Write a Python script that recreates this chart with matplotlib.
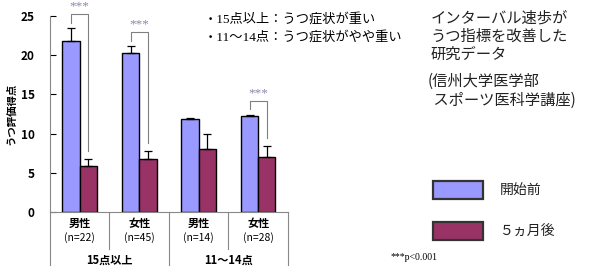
import matplotlib.pyplot as plt
import numpy as np

plt.rcParams["font.family"] = ["Noto Sans CJK JP", "DejaVu Sans"]

SEX_LABELS = ["男性", "女性", "男性", "女性"]
N_LABELS = ["(n=22)", "(n=45)", "(n=14)", "(n=28)"]
GROUP_LABELS = ["15点以上", "11～14点"]
SERIES_LABELS = ["開始前", "５ヵ月後"]

before = [21.8, 20.3, 11.8, 12.2]
before_err = [1.6, 0.8, 0.2, 0.2]
after = [5.8, 6.7, 8.0, 7.0]
after_err = [1.0, 1.1, 2.0, 1.4]
significant = [True, True, False, True]

BLUE = "#9999ff"
RED = "#993366"
W = 0.29

fig = plt.figure(figsize=(5.91, 2.70), dpi=100)
ax = fig.add_axes([0.0846, 0.2148, 0.4027, 0.7268])

x = np.arange(len(before))
ax.bar(x - W / 2, before, W, color=BLUE, edgecolor="black", linewidth=1.0,
       yerr=[np.zeros(4), before_err], capsize=3,
       error_kw={"elinewidth": 0.9, "capthick": 0.9})
ax.bar(x + W / 2, after, W, color=RED, edgecolor="black", linewidth=1.0,
       yerr=[np.zeros(4), after_err], capsize=3,
       error_kw={"elinewidth": 0.9, "capthick": 0.9})

# significance brackets
for i, sig in enumerate(significant):
    if not sig:
        continue
    b_top = before[i] + before_err[i]
    a_top = after[i] + after_err[i]
    top = b_top + 1.8
    ax.plot([i - W / 2, i - W / 2, i + W / 2, i + W / 2],
            [b_top + 0.7, top, top, a_top + 1.0],
            color="#808080", lw=0.8, clip_on=False)
    ax.text(i, top + 0.2, "***", ha="center", va="bottom", fontsize=9.5,
            color="#8888aa", family=["Liberation Serif"])

ax.set_xlim(-0.5, 3.5)
ax.set_ylim(0, 25)
ax.set_yticks([0, 5, 10, 15, 20, 25])
ax.tick_params(axis="y", direction="in", length=4, labelsize=8.5, pad=11)
for lab in ax.get_yticklabels():
    lab.set_fontweight("bold")
ax.set_xticks([])
ax.spines["top"].set_visible(False)
ax.spines["right"].set_visible(False)
ax.spines["left"].set_color("#888888")
ax.spines["bottom"].set_color("#888888")
ax.set_ylabel("うつ評価得点", fontsize=7.5, fontweight="bold", labelpad=3)

# category labels under the axis
tr = ax.get_xaxis_transform()
for i in range(len(SEX_LABELS)):
    ax.text(i, -0.06, SEX_LABELS[i], transform=tr, ha="center", va="center",
            fontsize=8, fontweight="bold")
    ax.text(i, -0.13, N_LABELS[i], transform=tr, ha="center", va="center",
            fontsize=7.5)
for j, g in enumerate(GROUP_LABELS):
    ax.text(2 * j + 0.5, -0.245, g, transform=tr, ha="center", va="center",
            fontsize=8, fontweight="bold")
for xs, y_end in [(-0.5, -0.27), (0.5, -0.19), (1.5, -0.27), (2.5, -0.19), (3.5, -0.27)]:
    ax.plot([xs, xs], [0, y_end], transform=tr, color="#888888", lw=0.8,
            clip_on=False)

# notes
note_font = ["Liberation Serif", "Noto Sans CJK JP"]
fig.text(0.345, 0.93, "・15点以上：うつ症状が重い", fontsize=9.5, family=note_font,
         va="center")
fig.text(0.345, 0.862, "・11～14点：うつ症状がやや重い", fontsize=9.5, family=note_font,
         va="center")

title_lines = ["インターバル速歩が", "うつ指標を改善した", "研究データ"]
for k, line in enumerate(title_lines):
    fig.text(0.728, 0.933 - k * 0.068, line, fontsize=11, va="center", color="#222222")
fig.text(0.723, 0.697, "(信州大学医学部", fontsize=11, va="center", color="#222222")
fig.text(0.728, 0.627, " スポーツ医科学講座)", fontsize=11, va="center", color="#222222")

# legend
for k, (col, lab) in enumerate(zip([BLUE, RED], SERIES_LABELS)):
    yb = 0.263 - k * 0.152
    fig.patches.append(plt.Rectangle((0.732, yb), 0.086, 0.066, transform=fig.transFigure,
                                     facecolor=col, edgecolor="#333333", lw=1.6))
    fig.text(0.846, yb + 0.033, lab, fontsize=10, va="center", color="#222222")

fig.text(0.66, 0.045, "***p<0.001", fontsize=7, family=["Liberation Serif"], va="center")

fig.savefig("out.png", dpi=100)
